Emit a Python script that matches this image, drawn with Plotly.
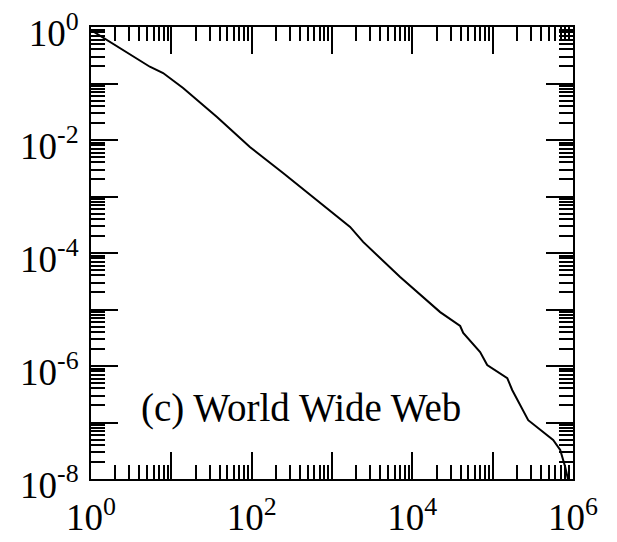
import plotly.graph_objects as go

# Cumulative distribution (World Wide Web)
x_vals = [1, 2.5, 5.4, 7.9, 14, 37, 95, 246, 652, 1680, 2440, 7050, 22200,
          39400, 43000, 69800, 85500, 124000, 152000, 175000, 277000,
          566000, 693000, 800000, 871000]
y_vals = [0.885, 0.39, 0.198, 0.153, 0.083, 0.0255, 0.0075, 0.0026, 8.7e-4,
          2.9e-4, 1.57e-4, 3.76e-5, 9.0e-6, 5.1e-6, 3.84e-6, 1.77e-6, 1.04e-6,
          7.5e-7, 6.1e-7, 3.76e-7, 1.1e-7, 4.9e-8, 3.26e-8, 1.63e-8, 9.6e-9]

x_major = [10 ** k for k in range(0, 7)]
x_labels = ["10<sup>%d</sup>" % k if k % 2 == 0 else "" for k in range(0, 7)]
y_major = [10 ** k for k in range(-8, 1)]
y_labels = ["10<sup>%d</sup>" % k if k % 2 == 0 else "" for k in range(-8, 1)]
x_minor = [m * 10 ** k for k in range(0, 6) for m in range(2, 10)]
y_minor = [m * 10 ** k for k in range(-8, 0) for m in range(2, 10)]

label_text = "(c) World Wide Web"

FONT = "Liberation Serif"

fig = go.Figure()
fig.add_trace(go.Scatter(x=x_vals, y=y_vals, mode="lines",
                         line=dict(color="black", width=2), showlegend=False,
                         hoverinfo="skip"))

axis_common = dict(
    showline=True, linecolor="black", linewidth=2, mirror="allticks",
    ticks="inside", ticklen=27, tickwidth=1.5, tickcolor="black",
    showgrid=False, zeroline=False, automargin=False,
    tickfont=dict(family=FONT, size=37, color="black"),
)

fig.update_xaxes(type="log", range=[0, 6], tickmode="array",
                 tickvals=x_major, ticktext=x_labels, ticklabelstandoff=5,
                 minor=dict(tickmode="array", tickvals=x_minor, ticks="inside",
                            ticklen=14, tickwidth=1.5, tickcolor="black",
                            showgrid=False),
                 **axis_common)
fig.update_yaxes(type="log", range=[-8, 0], tickmode="array",
                 tickvals=y_major, ticktext=y_labels,
                 ticklabelstandoff=3, ticklabelshift=6,
                 minor=dict(tickmode="array", tickvals=y_minor, ticks="inside",
                            ticklen=14, tickwidth=1.5, tickcolor="black",
                            showgrid=False),
                 **axis_common)

fig.add_annotation(x=0.6, y=-6.74, xref="x", yref="y", text=label_text,
                   showarrow=False, xanchor="left", yanchor="middle",
                   font=dict(family=FONT, size=39, color="black"))

fig.update_layout(width=617, height=542,
                  margin=dict(l=91, r=44, t=27, b=63),
                  paper_bgcolor="white", plot_bgcolor="white")

fig.write_html("out.html")
